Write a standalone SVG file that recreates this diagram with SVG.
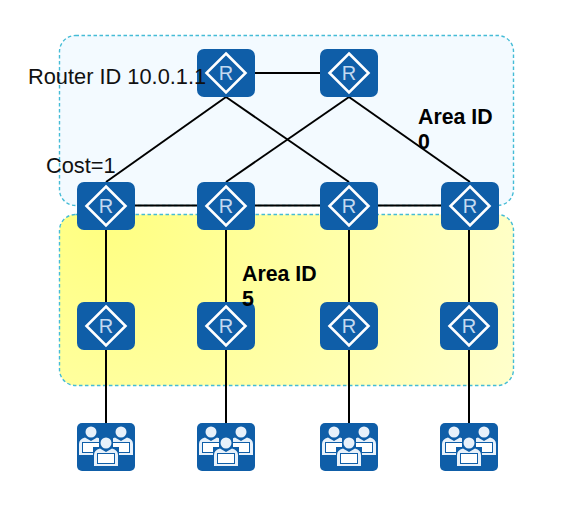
<svg xmlns="http://www.w3.org/2000/svg" width="567" height="509" viewBox="0 0 567 509">
<style>
.area{stroke:#45bcd6;stroke-width:1.400;stroke-dasharray:3.500 2.500}
.link{fill:none;stroke:#000;stroke-width:2}
.box{fill:#0f5ea8}
.dia{fill:none;stroke:#fff;stroke-width:2.600}
.r{font:20px "Liberation Sans",Arial,sans-serif;fill:#c4daf0;text-anchor:middle}
.lbl{font:21.800px "Liberation Sans",Arial,sans-serif;fill:#111}
.bold{font:bold 21.300px "Liberation Sans",Arial,sans-serif;fill:#000}
.p{fill:#e8f1fa}
.l{fill:#fff}
</style>
<defs>
<radialGradient id="yg" gradientUnits="userSpaceOnUse" cx="100" cy="215" r="480">
<stop offset="0" stop-color="#ffff80"/><stop offset="1" stop-color="#ffffd2"/>
</radialGradient>
<g id="router">
<rect class="box" x="-29" y="-24" width="58" height="48" rx="7"/>
<path class="dia" d="M0-19.500L19.500 0L0 19.500L-19.500 0Z"/>
<text class="r" x="0" y="7">R</text>
</g>
<g id="person">
<circle class="p" cx="0" cy="-11" r="5.500"/>
<path class="p" d="M-12 10V1q0-5 6-6.500l6 3.500l6-3.500q6 1.500 6 6.500V10Z"/>
<rect class="box" x="-9" y="-1" width="18" height="11"/>
<rect class="l" x="-8" y="0" width="16" height="9"/>
<rect class="p" x="-12" y="10" width="24" height="2"/>
</g>
<g id="users">
<rect class="box" x="-29" y="-24" width="58" height="48" rx="5"/>
<use href="#person" x="-15" y="-4"/>
<use href="#person" x="15" y="-4"/>
<path d="M-7-11h14V0h6V21h-26V0h6Z" fill="#0f5ea8"/>
<use href="#person" x="0" y="7"/>
</g>
</defs>
<g id="areas">
<rect id="area0" class="area" x="59.500" y="35.500" width="454" height="170" rx="16" fill="#f3faff"/>
<rect id="area5" class="area" x="59.500" y="214.500" width="454" height="171" rx="16" fill="url(#yg)"/>
</g>
<g id="connectors">
<path class="link" d="M226 73H349"/>
<path class="link" d="M226 97L106 182"/>
<path class="link" d="M226 97L349 182"/>
<path class="link" d="M349 97L226 182"/>
<path class="link" d="M349 97L470 182"/>
<path class="link" d="M106 205.500H470"/>
<path class="link" d="M106 230V302M106 349V423"/>
<path class="link" d="M226 230V302M226 349V423"/>
<path class="link" d="M349 230V302M349 349V423"/>
<path class="link" d="M469 230V302M469 349V423"/>
</g>
<use id="r1" href="#router" x="226" y="73"/>
<use id="r2" href="#router" x="349" y="73"/>
<use id="r3" href="#router" x="106" y="206"/>
<use id="r4" href="#router" x="226" y="206"/>
<use id="r5" href="#router" x="349" y="206"/>
<use id="r6" href="#router" x="470" y="206"/>
<use id="r7" href="#router" x="106" y="326"/>
<use id="r8" href="#router" x="226" y="326"/>
<use id="r9" href="#router" x="349" y="326"/>
<use id="r10" href="#router" x="469" y="326"/>
<use id="u1" href="#users" x="106" y="447"/>
<use id="u2" href="#users" x="226" y="447"/>
<use id="u3" href="#users" x="349" y="447"/>
<use id="u4" href="#users" x="469" y="447"/>
<text id="label-router-id" class="lbl" x="28" y="84">Router ID 10.0.1.1</text>
<text id="label-cost" class="lbl" x="46" y="173">Cost=1</text>
<text id="label-area0" class="bold"><tspan x="418" y="124">Area ID</tspan><tspan x="418" y="149">0</tspan></text>
<text id="label-area5" class="bold"><tspan x="242" y="281">Area ID</tspan><tspan x="242" y="306">5</tspan></text>
</svg>
